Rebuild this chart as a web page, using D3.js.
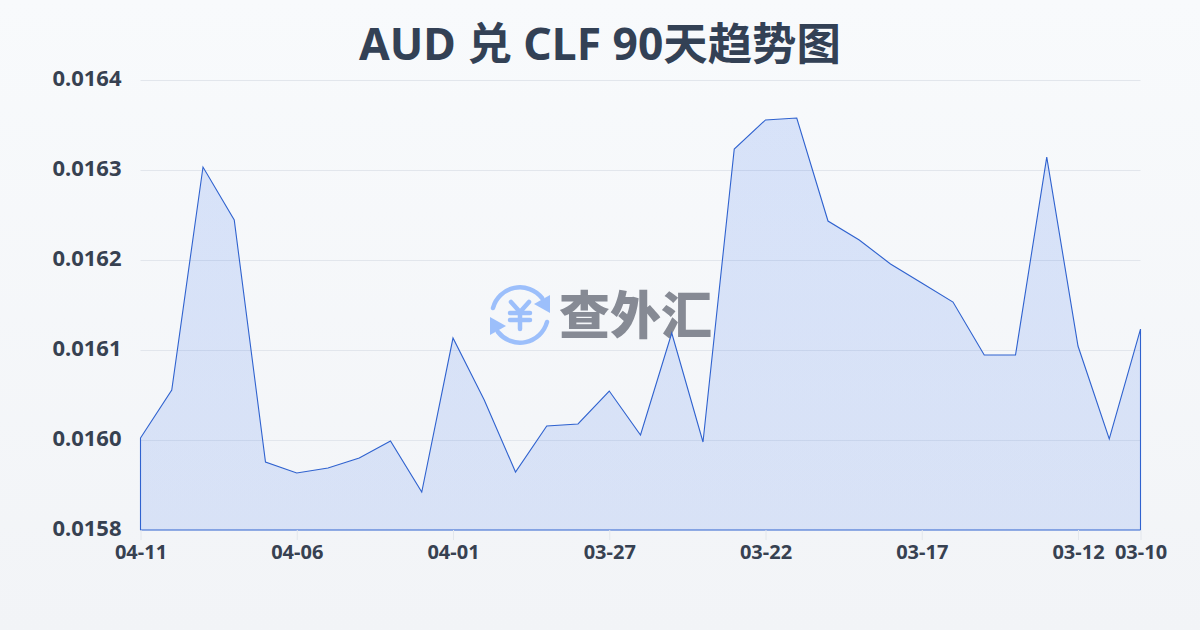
<!DOCTYPE html>
<html><head><meta charset="utf-8">
<script src="https://d3js.org/d3.v7.min.js"></script>
<style>html,body{margin:0;padding:0;overflow:hidden}svg{display:block}</style>
</head><body><div id="c"></div>
<script>
const titleText = "AUD 兑 CLF 90天趋势图";
const categories = ["04-11","04-10","04-09","04-08","04-07","04-06","04-05","04-04","04-03","04-02","04-01","03-31","03-30","03-29","03-28","03-27","03-26","03-25","03-24","03-23","03-22","03-21","03-20","03-19","03-18","03-17","03-16","03-15","03-14","03-13","03-12","03-11","03-10"];
const values = [0.0160022,0.0160556,0.0163033,0.0162444,0.0159511,0.0159267,0.0159378,0.0159600,0.0159978,0.0158844,0.0161133,0.0160444,0.0159289,0.0160156,0.0160178,0.0160544,0.0160056,0.0161189,0.0159956,0.0163233,0.0163556,0.0163578,0.0162433,0.0162222,0.0161956,0.0161744,0.0161533,0.0160944,0.0160944,0.0163144,0.0161044,0.0160011,0.0161233];
const yTicks = [0.0158,0.0160,0.0161,0.0162,0.0163,0.0164];
const xTicks = ["04-11","04-06","04-01","03-27","03-22","03-17","03-12","03-10"];
const watermark = "查外汇";

const W=1200,H=630,L=140.5,R=1140.5,T=80,B=530;
const svg=d3.select("#c").append("svg").attr("width",W).attr("height",H).attr("viewBox",`0 0 ${W} ${H}`);
const defs=svg.append("defs");
const bg=defs.append("linearGradient").attr("id","bg").attr("x1",0).attr("y1",0).attr("x2",0).attr("y2",1);
bg.append("stop").attr("offset",0).attr("stop-color","#f8fafc");
bg.append("stop").attr("offset",1).attr("stop-color","#f2f4f7");
const ag=defs.append("linearGradient").attr("id","ag").attr("x1",0).attr("y1",0).attr("x2",0).attr("y2",1);
ag.append("stop").attr("offset",0).attr("stop-color","#2563eb").attr("stop-opacity",0.15);
ag.append("stop").attr("offset",1).attr("stop-color","#2563eb").attr("stop-opacity",0.13);
svg.append("rect").attr("width",W).attr("height",H).attr("fill","url(#bg)");

const x=d3.scalePoint().domain(categories).range([L,R]);
const step=(B-T)/(yTicks.length-1);
const y=d3.scaleLinear().domain(yTicks).range(yTicks.map((d,i)=>B-i*step));
const font='"Noto Sans","Noto Sans CJK SC",sans-serif';
const ink="#374151";

svg.append("text").attr("x",600).attr("y",60).attr("text-anchor","middle")
  .attr("font-family",font).attr("font-weight",700).attr("font-size",44.4).attr("fill","#334155").text(titleText);

// grid
svg.append("g").selectAll("line").data(yTicks.slice(1)).join("line")
  .attr("x1",L).attr("x2",R).attr("y1",d=>y(d)+.5).attr("y2",d=>y(d)+.5)
  .attr("stroke","#e2e6ec").attr("stroke-width",1);

// watermark
const wm=svg.append("g").attr("transform","translate(520,315)");
const blue="#9cbffb";
const arc=d=>wm.append("path").attr("d",d).attr("fill","none").attr("stroke",blue).attr("stroke-width",4.5).attr("stroke-linecap","round");
arc("M-27,-7 A28,28 0 0 1 22,-17");
arc("M27,7 A28,28 0 0 1 -22,17");
wm.append("path").attr("d","M30,-20 L30,-2 L14,-11 Z").attr("fill",blue);
wm.append("path").attr("d","M-30,2 L-30,20 L-14,11 Z").attr("fill",blue);
wm.append("path").attr("d","M-9,-13 L0,-3 L9,-13 M-10,-2 H10 M-10,5 H10 M0,-3 V14").attr("fill","none").attr("stroke",blue).attr("stroke-width",4.5).attr("stroke-linecap","round").attr("stroke-linejoin","round");
svg.append("text").attr("x",559).attr("y",334).attr("font-family",'"Noto Sans CJK SC",sans-serif').attr("font-weight",900).attr("font-size",51)
  .attr("fill","#868a94").text(watermark);

// area
const area=d3.area().x((d,i)=>x(categories[i])).y0(B).y1(d=>y(d));
svg.append("path").datum(values).attr("d",area).attr("fill","url(#ag)").attr("stroke","#2f62cf").attr("stroke-width",1.1).attr("stroke-linejoin","miter");

// axes
const yAxis=svg.append("g").attr("transform",`translate(${L},0)`).call(d3.axisLeft(y).tickValues(yTicks).tickFormat(d3.format(".4f")).tickSize(0).tickPadding(19));
yAxis.select(".domain").remove();
yAxis.selectAll("text").attr("font-family",font).attr("font-weight",700).attr("font-size",22).attr("fill",ink).attr("dy","0.24em");
const xAxis=svg.append("g").attr("transform",`translate(0,${B})`).call(d3.axisBottom(x).tickValues(xTicks).tickSize(10).tickPadding(5));
xAxis.select(".domain").remove();
xAxis.selectAll("line").attr("stroke","#e2e6ec");
xAxis.selectAll("text").attr("font-family",font).attr("font-weight",700).attr("font-size",20).attr("fill",ink);
</script></body></html>
